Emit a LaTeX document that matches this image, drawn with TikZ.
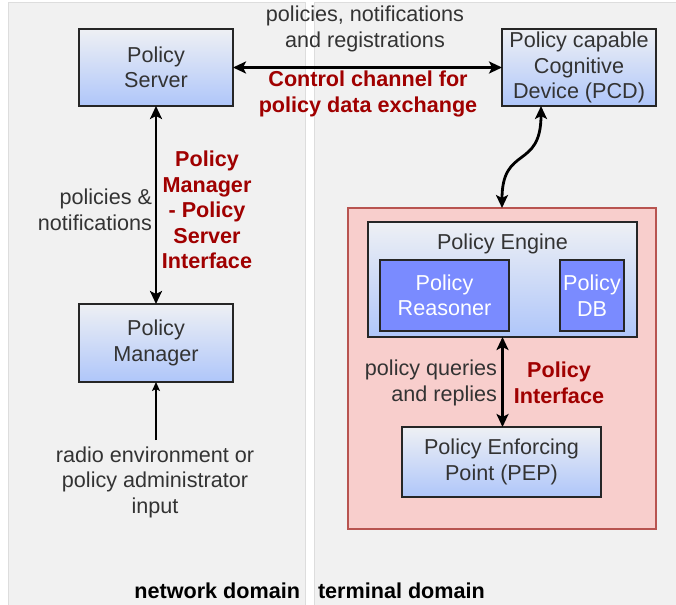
\documentclass[tikz,border=0pt]{standalone}
\usepackage{fontspec}
\setmainfont{Liberation Sans}
\usetikzlibrary{arrows.meta}
\definecolor{txtgray}{HTML}{333333}
\definecolor{darkred}{HTML}{A00000}
\definecolor{panelfill}{HTML}{F1F1F1}
\definecolor{panelline}{HTML}{DDDDDD}
\definecolor{boxtop}{HTML}{EEF0F4}
\definecolor{boxbottom}{HTML}{AFC6FA}
\definecolor{innerfill}{HTML}{7A8BFF}
\definecolor{pepfill}{HTML}{F8CECC}
\definecolor{pepline}{HTML}{B85450}
\tikzset{
  x=1pt, y=-1pt,
  every node/.style={inner sep=0pt, outer sep=0pt, align=center,
    font=\fontsize{21.6}{25.5}\selectfont, text=txtgray},
  bluebox/.style={draw=black!85, line width=1.3pt, top color=boxtop, bottom color=boxbottom},
  innerbox/.style={draw=black!85, line width=1.3pt, fill=innerfill, text=white},
  redlabel/.style={font=\fontsize{21.6}{25.5}\selectfont\bfseries, text=darkred},
  domlabel/.style={font=\fontsize{21.6}{25.5}\selectfont\bfseries, text=black},
  bigarrow/.style={line width=2.8pt, {Stealth[length=13pt,width=12pt,inset=3pt]}-{Stealth[length=13pt,width=12pt,inset=3pt]}},
  smallarrow/.style={line width=1.4pt, -{Stealth[length=9pt,width=8pt,inset=2pt]}}
}
\begin{document}
\begin{tikzpicture}
\useasboundingbox (0,0) rectangle (676,604);
\fill[white] (0,0) rectangle (676,604);

% domain panels
\draw[panelline, fill=panelfill, line width=1pt] (8,612) -- (8,3) -- (305,3) -- (305,612);
\draw[panelline, fill=panelfill, line width=1pt] (314,612) -- (314,3) -- (684,3) -- (684,612);

% terminal container
\node[draw=pepline, fill=pepfill, line width=1.2pt, minimum width=308pt, minimum height=321pt] (term) at (502,368.5) {};

% boxes
\node[bluebox, minimum width=154pt, minimum height=77pt] (server) at (156,67.5) {Policy\\Server};
\node[bluebox, minimum width=154pt, minimum height=77pt] (pcd) at (579,67.5) {Policy capable\\Cognitive\\Device (PCD)};
\node[bluebox, minimum width=154pt, minimum height=78pt] (manager) at (156,343) {Policy\\Manager};
\node[bluebox, minimum width=269pt, minimum height=115pt] (engine) at (502.5,279.5) {};
\node (enginelabel) at (502.5,244) {Policy Engine};
\node[innerbox, minimum width=129pt, minimum height=71pt] (reasoner) at (444.5,295.5) {Policy\\Reasoner};
\node[innerbox, minimum width=64pt, minimum height=71pt] (db) at (592,295.5) {Policy\\DB};
\node[bluebox, minimum width=199pt, minimum height=70pt] (pep) at (501.5,462) {Policy Enforcing\\Point (PEP)};

% connectors
\draw[bigarrow] (server.east) -- (pcd.west);
\draw[bigarrow] (server.south) -- (manager.north);
\coordinate (input) at (156,440);
\draw[smallarrow] (input) -- (manager.south);
\draw[bigarrow] (pcd.south -| 541,0) .. controls (541,170) and (502,145) .. (term.north);
\draw[bigarrow] (engine.south) -- (engine.south |- pep.north);

% labels
\node (lbltop) at (365,29) {policies, notifications\\and registrations};
\node[redlabel] (lblchan) at (368,94) {Control channel for\\policy data exchange};
\node[anchor=east, align=right] (lblpn) at (152,210) {policies \&\\notifications};
\node[redlabel] (lblpmps) at (207,210) {Policy\\Manager\\- Policy\\Server\\Interface};
\node (lblinput) at (155,482) {radio environment or\\policy administrator\\input};
\node[anchor=east, align=right] (lblpq) at (497,383) {policy queries\\and replies};
\node[redlabel] (lblpi) at (559,383) {Policy\\Interface};
\node[domlabel, anchor=east] (netdom) at (300,591) {network domain};
\node[domlabel, anchor=west] (termdom) at (318,591) {terminal domain};
\end{tikzpicture}
\end{document}
